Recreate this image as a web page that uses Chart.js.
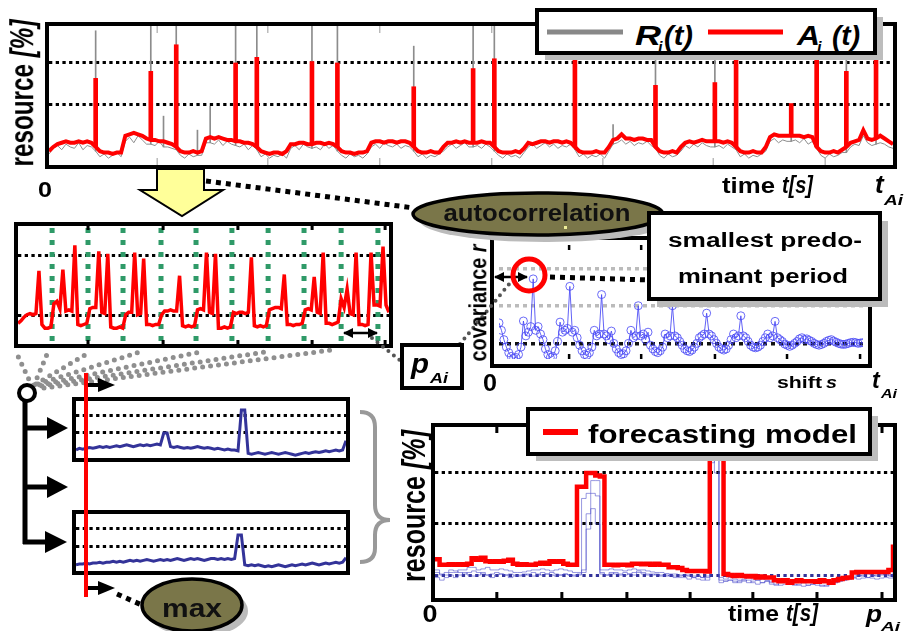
<!DOCTYPE html>
<html>
<head>
<meta charset="utf-8">
<script src="https://cdn.jsdelivr.net/npm/chart.js"></script>
<style>
body { margin: 0; background: #fff; width: 904px; height: 631px; overflow: hidden; position: relative; }
.frame { position: absolute; box-sizing: border-box; border: 4px solid #000; background: #fff; }
.frame canvas { display: block; }
svg { position: absolute; left: 0; top: 0; font-family: "Liberation Sans", Arial, sans-serif; font-weight: bold; }
</style>
</head>
<body>
<div class="frame" style="left:45px;top:22px;width:852px;height:147px"><canvas id="topChart" width="844" height="139"></canvas></div>
<div class="frame" style="left:14px;top:222px;width:379px;height:126px"><canvas id="midChart" width="371" height="118"></canvas></div>
<div class="frame" style="left:490px;top:236px;width:382px;height:132px"><canvas id="acfChart" width="374" height="124"></canvas></div>
<div class="frame" style="left:72px;top:397px;width:278px;height:65px"><canvas id="smallA" width="270" height="57"></canvas></div>
<div class="frame" style="left:72px;top:510px;width:278px;height:65px"><canvas id="smallB" width="270" height="57"></canvas></div>
<div class="frame" style="left:431px;top:423px;width:466px;height:179px"><canvas id="fcChart" width="458" height="171"></canvas></div>

<svg width="904" height="631">
  <defs>
    <marker id="ah" viewBox="0 0 10 10" refX="9" refY="5" markerWidth="4" markerHeight="4" orient="auto-start-reverse">
      <path d="M0,0 L10,5 L0,10 z" fill="#000"/>
    </marker>
  </defs>

  <!-- grey fan from the split node up to the period window -->
  <g stroke="#8f8f8f" stroke-width="5" stroke-linecap="round" stroke-dasharray="0 8" fill="none">
    <line x1="32" y1="386" x2="16" y2="352"/>
    <line x1="34" y1="385" x2="48" y2="352"/>
    <line x1="36" y1="384" x2="90" y2="352"/>
    <line x1="38" y1="384" x2="140" y2="352"/>
    <line x1="40" y1="385" x2="200" y2="352"/>
    <line x1="42" y1="386" x2="265" y2="352"/>
    <line x1="44" y1="388" x2="332" y2="350"/>
  </g>

  <!-- split tree -->
  <g stroke="#000" stroke-width="5" fill="none">
    <line x1="25" y1="400" x2="25" y2="544"/>
    <line x1="25" y1="428" x2="50" y2="428"/>
    <line x1="25" y1="487" x2="50" y2="487"/>
    <line x1="23" y1="542" x2="48" y2="542"/>
  </g>
  <polygon points="47,417 68,428 47,439" fill="#000"/>
  <polygon points="47,476 68,487 47,498" fill="#000"/>
  <polygon points="45,531 67,542 45,553" fill="#000"/>
  <circle cx="27" cy="393" r="8" fill="#fff" stroke="#000" stroke-width="4"/>

  <!-- yellow arrow -->
  <polygon points="157,169 204,169 204,190 223,190 182,216 140,190 157,190" fill="#ffff99" stroke="#000" stroke-width="2"/>

  <!-- black dotted connectors -->
  <g stroke="#000" stroke-width="5" stroke-dasharray="5 5" fill="none">
    <line x1="206" y1="181" x2="414" y2="208"/>
    <line x1="550" y1="277" x2="650" y2="280"/>
    <line x1="117" y1="594" x2="144" y2="606"/>
  </g>
  <g stroke="#555" stroke-width="4" stroke-linecap="round" stroke-dasharray="0 7" fill="none">
    <line x1="372" y1="338" x2="402" y2="362"/>
    <line x1="460" y1="344" x2="510" y2="283"/>
  </g>

  <!-- double arrows -->
  <line x1="344" y1="333" x2="377" y2="333" stroke="#000" stroke-width="2.5" marker-start="url(#ah)" marker-end="url(#ah)"/>
  <line x1="495" y1="277" x2="527" y2="277" stroke="#000" stroke-width="2.5" marker-start="url(#ah)" marker-end="url(#ah)"/>
  <circle cx="529" cy="275" r="16" fill="none" stroke="#ff0000" stroke-width="5"/>

  <!-- top legend -->
  <rect x="545" y="17" width="338" height="43" fill="#bdbdbd"/>
  <rect x="537" y="10" width="338" height="43" fill="#fff" stroke="#000" stroke-width="4"/>
  <line x1="547" y1="32" x2="623" y2="32" stroke="#888" stroke-width="5"/>
  <text x="635" y="45" font-size="28" font-style="italic" textLength="26" lengthAdjust="spacingAndGlyphs">R</text>
  <text x="658" y="53" font-size="16" font-style="italic">i</text>
  <text x="664" y="45" font-size="28" font-style="italic" textLength="29" lengthAdjust="spacingAndGlyphs">(t)</text>
  <line x1="708" y1="32" x2="783" y2="32" stroke="#ff0000" stroke-width="5"/>
  <text x="797" y="45" font-size="28" font-style="italic" textLength="23" lengthAdjust="spacingAndGlyphs">A</text>
  <text x="817" y="53" font-size="16" font-style="italic">i</text>
  <text x="832" y="45" font-size="28" font-style="italic" textLength="28" lengthAdjust="spacingAndGlyphs">(t)</text>

  <!-- top chart labels -->
  <text transform="translate(33,93) scale(1.3,1) rotate(-90)" text-anchor="middle" font-size="25" textLength="147" lengthAdjust="spacingAndGlyphs">resource <tspan font-style="italic">[%]</tspan></text>
  <text x="45" y="197" font-size="22" text-anchor="middle" textLength="14" lengthAdjust="spacingAndGlyphs">0</text>
  <text x="722" y="193" font-size="22" textLength="53" lengthAdjust="spacingAndGlyphs">time</text>
  <text x="782" y="193" font-size="23" font-style="italic" textLength="31" lengthAdjust="spacingAndGlyphs">t[s]</text>
  <text x="875" y="193" font-size="26" font-style="italic">t</text>
  <text x="884" y="205" font-size="15" font-style="italic" textLength="19" lengthAdjust="spacingAndGlyphs">Ai</text>

  <!-- autocorrelation ellipse -->
  <ellipse cx="545" cy="221" rx="125" ry="21" fill="#bbb"/>
  <ellipse cx="538" cy="214" rx="125" ry="21" fill="#7a7649" stroke="#000" stroke-width="3.5"/>
  <text x="537" y="221" font-size="23" text-anchor="middle" fill="#111" textLength="187" lengthAdjust="spacingAndGlyphs">autocorrelation</text>
  <rect x="564" y="226" width="3" height="3" fill="#eeee99"/>

  <!-- smallest predominant period box -->
  <rect x="657" y="221" width="231" height="86" fill="#bbb"/>
  <rect x="649" y="213" width="231" height="86" fill="#fff" stroke="#000" stroke-width="4"/>
  <text x="765" y="247" font-size="20" text-anchor="middle" textLength="194" lengthAdjust="spacingAndGlyphs">smallest predo-</text>
  <text x="763" y="283" font-size="20" text-anchor="middle" textLength="170" lengthAdjust="spacingAndGlyphs">minant period</text>

  <!-- acf labels -->
  <text transform="translate(486,303) scale(1.3,1) rotate(-90)" text-anchor="middle" font-size="18" textLength="117" lengthAdjust="spacingAndGlyphs">covariance <tspan font-style="italic">r</tspan></text>
  <text x="490" y="391" font-size="24" text-anchor="middle" textLength="14" lengthAdjust="spacingAndGlyphs">0</text>
  <text x="777" y="388" font-size="17" textLength="45" lengthAdjust="spacingAndGlyphs">shift</text>
  <text x="826" y="388" font-size="17" font-style="italic" textLength="11" lengthAdjust="spacingAndGlyphs">s</text>
  <text x="872" y="388" font-size="23" font-style="italic">t</text>
  <text x="881" y="398" font-size="13" font-style="italic" textLength="16" lengthAdjust="spacingAndGlyphs">Ai</text>

  <!-- p_Ai box -->
  <rect x="402" y="345" width="60" height="43" fill="#fff" stroke="#000" stroke-width="4"/>
  <text x="411" y="373" font-size="27" font-style="italic" textLength="18" lengthAdjust="spacingAndGlyphs">p</text>
  <text x="430" y="383" font-size="15" font-style="italic" textLength="18" lengthAdjust="spacingAndGlyphs">Ai</text>

  <!-- red marker over the per-period windows -->
  <line x1="86" y1="373" x2="86" y2="597" stroke="#ff0000" stroke-width="4"/>
  <line x1="88" y1="385" x2="100" y2="385" stroke="#000" stroke-width="4"/>
  <polygon points="98,378 115,385 98,392" fill="#000"/>
  <line x1="88" y1="588" x2="100" y2="588" stroke="#000" stroke-width="4"/>
  <polygon points="98,581 115,588 98,595" fill="#000"/>

  <!-- brace -->
  <path d="M360,412 Q375,412 375,427 L375,505 Q375,520 390,520 Q375,520 375,535 L375,548 Q375,562 360,562" fill="none" stroke="#999" stroke-width="4"/>

  <!-- max ellipse -->
  <ellipse cx="198" cy="611" rx="50" ry="26" fill="#bbb"/>
  <ellipse cx="192" cy="605" rx="50" ry="26" fill="#7a7649" stroke="#000" stroke-width="3.5"/>
  <text x="192" y="617" font-size="26" text-anchor="middle" fill="#111" textLength="60" lengthAdjust="spacingAndGlyphs">max</text>

  <!-- forecasting legend -->
  <rect x="536" y="416" width="342" height="45" fill="#bdbdbd"/>
  <rect x="528" y="409" width="342" height="45" fill="#fff" stroke="#000" stroke-width="4"/>
  <line x1="543" y1="432" x2="578" y2="432" stroke="#ff0000" stroke-width="6"/>
  <text x="588" y="443" font-size="25" textLength="269" lengthAdjust="spacingAndGlyphs">forecasting model</text>

  <!-- forecasting labels -->
  <text transform="translate(425,506) scale(1.3,1) rotate(-90)" text-anchor="middle" font-size="25" textLength="152" lengthAdjust="spacingAndGlyphs">resource <tspan font-style="italic">[%]</tspan></text>
  <text x="430" y="622" font-size="23" text-anchor="middle" textLength="15" lengthAdjust="spacingAndGlyphs">0</text>
  <text x="728" y="621" font-size="22" textLength="51" lengthAdjust="spacingAndGlyphs">time</text>
  <text x="786" y="621" font-size="23" font-style="italic" textLength="32" lengthAdjust="spacingAndGlyphs">t[s]</text>
  <text x="866" y="622" font-size="24" font-style="italic" textLength="16" lengthAdjust="spacingAndGlyphs">p</text>
  <text x="881" y="631" font-size="13" font-style="italic" textLength="19" lengthAdjust="spacingAndGlyphs">Ai</text>
</svg>

<script>
// measured resource R_i(t) (grey noise) and averaged A_i(t) (red base), 200 samples
const topGray = [5,9,11,8,12,10,9,13,8,11,10, 7, 3,5,2,4,6,3, 14,17,13,18,15,12, 12, 11,14,10,10,9, 8,
  4,2,5,3,4,4, 13,13,12,15,11,14,12, 11, 10,12,8,11, 8, 3,5,2,4,3,5,2, 9,11,8,12,10, 9, 10,8,12,9,11, 7,
  4,2,5,3,4,2,5, 10,12,9,13,11,10,12,9,11,10, 7, 3,5,2,4,3,5,7, 10,12,9,11,13,10, 10, 11,9,12,10, 7,
  4,2,5,3,4,2,6, 10,12,9,11,13,10,12,9,11,10,12, 8, 3,5,2,4,3,5,2,7, 12,13,15,12,14,11,13,12,14,11, 9,
  4,2,5,3,4,7, 11,9,12,10,13,11,10, 10, 11,9,12,10, 8, 3,5,2,4,3,5,7, 14,16,13,15,14, 14, 15,13,16,12,14, 9,
  4,2,5,3,4,6, 6, 10,12,11,18,13,11,12,13,12,10,9];
const topRed = [7,10,12,13,14,13,13,14,13,14,13, 10, 7,6,6,5,6,6, 18,19,20,19,18,16, 15, 15,14,14,13,12, 10,
  7,6,6,7,6,7, 16,17,16,17,16,15,15, 14, 14,13,13,12, 10, 7,6,5,6,6,5,7, 12,12,13,13,12, 12, 13,13,12,13,12, 10,
  7,6,6,5,6,6,7, 13,14,14,13,14,14,13,14,14,13, 10, 7,6,6,7,6,6,10, 13,13,14,13,14,13, 13, 13,14,13,13, 10,
  7,6,6,6,7,6,9, 13,12,13,14,14,13,14,14,13,14,13, 10, 7,6,6,6,7,6,6,10, 15,16,19,16,16,15,16,16,15,15, 10,
  7,6,6,7,6,10, 13,14,13,14,15,14,14, 14, 14,13,14,13, 10, 7,6,6,7,6,6,10, 17,19,18,18,18, 18, 18,18,17,18,17, 10,
  7,6,6,7,6,8, 10, 13,14,15,22,16,15,16,18,16,14,12];
// peaks of A_i(t) and the thin peaks of R_i(t)
const spikeIdx = [11, 24, 30, 44, 49, 62, 68, 86, 100, 105, 124, 143, 157, 162, 175, 181, 188, 195];
const spikeRed = [59, 64, 83, 70, 74, 71, 70, 53, 66, 73, 73, 54, 56, 82, 41, 84, 64, 72];
const hairIdx = [11, 24, 27, 30, 35, 38, 44, 49, 62, 68, 86, 100, 105, 124, 133, 143, 157, 162, 175, 181, 188, 195];
const hairTop = [93, 100, 32, 100, 22, 39, 100, 100, 100, 100, 82, 100, 100, 100, 26, 100, 77, 100, 38, 100, 78, 80];
const topGrid = [40, 70];
const topTicks = [25.5, 51.6, 78.0, 104.4, 130.6, 156.6, 183.0];

// zoomed window with the detected period marks
const midRed = [19,21,24,26,27,26,27,62,18,15, 15,16,35,37,31,63,29,30,29,83, 18,17,18,19,31,32,32,78,28,27,
  76,16,15,15,16,15,26,28,28,77, 26,27,72,18,18,17,18,18,26,29, 29,30,29,29,58,17,16,17,16,17,
  30,31,30,77,28,27,76,15,15,16, 15,16,28,27,28,28,27,28,73,17, 16,17,16,17,30,31,32,32,31,59,
  18,18,17,18,18,19,30,31,30,57, 28,27,77,19,19,18,19,20,39,32, 47,27,26,77,18,18,17,18,77,34, 34,33,82,34,28];
const midGrid = [25, 75];
const midTicks = [23.4, 48.5, 73.5, 98.3, 122.7];
const periodMarks = [11.4, 23.4, 35.1, 47.8, 59.5, 71.5, 83.6, 95.6, 108, 120.3];

// autocorrelation over the shift s
const acf = [0.55,0.35,0.1,-0.1,-0.25,-0.35,-0.4,-0.38,-0.3,-0.1, 0.6,0.2,0.3,0.45,1.73,0.35,0.45,0.25,0.1,-0.15,
  -0.3,-0.38,-0.35,-0.2,0.05,0.57,0.3,0.35,0.4,1.53, 0.3,0.35,0.15,-0.05,-0.2,-0.3,-0.32,-0.25,-0.1,0.35,
  0.2,0.25,1.31,0.25,0.2,0.1,0.33,0.0,-0.15,-0.25, -0.3,-0.28,-0.2,0.0,0.35,0.15,0.2,1.01,0.2,0.25,
  0.1,0.3,-0.05,-0.15,-0.22,-0.25,-0.2,-0.1,0.25,0.15, 0.2,1.01,0.2,0.15,0.05,-0.05,-0.15,-0.2,-0.22,-0.18,
  -0.1,0.0,0.15,0.2,0.25,0.81,0.25,0.2,0.1,0.0, -0.1,-0.15,-0.18,-0.15,-0.05,0.1,0.25,0.15,0.2,0.74,
  0.2,0.15,0.05,-0.05,-0.1,-0.12,-0.1,-0.05,0.05,0.15, 0.25,0.15,0.2,0.59,0.15,0.1,0.05,-0.02,-0.05,-0.08,
  -0.05,0.0,0.05,0.12,0.15,0.1,0.12,0.08,0.05,0.0, -0.03,-0.05,-0.03,0.0,0.05,0.08,0.1,0.06,0.03,0.0,
  -0.02,-0.03,-0.02,0.0,0.02,0.03,0.02,0.0,0.01,0.02];
const acfGrid = [0, 1, 2];
const acfTicks = [28.7, 58.2, 88.4, 117.9, 147.8];

// two of the per-period slices
const smallA = [0.0,0.1,0.05,0.1,0.15,0.1,0.15,0.2,0.15,0.2, 0.15,0.2,0.25,0.2,0.25,0.3,0.25,0.2,0.25,0.3,
  0.25,0.3,0.25,0.3,0.35,0.3, 1.0,1.0, 0.2,0.15,0.2,0.15,0.1,0.15,0.1,0.15,0.2,0.15, 0.1,0.15,0.1,0.05,0.1,0.05,0.0,0.05,0.0,0.0,
  -0.05, 2.35,2.35, -0.2,-0.25,-0.2,-0.15,-0.2,-0.25,-0.2,-0.15,-0.2,-0.25, -0.2,-0.15,-0.2,-0.25,-0.3,-0.25,-0.2,-0.15,-0.2,-0.15,
  -0.1,-0.15,-0.1,-0.05,-0.1,-0.05,0.0,-0.05,0.0,0.55];
const smallB = [-0.05,0.0,0.0,0.05,0.0,0.05,0.05,0.1,0.05,0.1, 0.1,0.15,0.1,0.15,0.1,0.15,0.2,0.15,0.2,0.15,
  0.2,0.25,0.2,0.15,0.2,0.25,0.2,0.25,0.2,0.25, 0.3,0.25,0.2,0.25,0.3,0.25,0.3,0.25,0.2,0.25, 0.3,0.3,0.25,0.3,0.25,0.3,0.25,0.3,
  1.61,1.61, -0.05,-0.1,-0.05,-0.1,-0.05,-0.1,-0.15,-0.1,-0.15,-0.1, -0.05,-0.1,-0.15,-0.1,-0.05,-0.1,-0.05,0.0,-0.05,0.0,
  0.05,0.0,-0.05,0.0,0.05,0.0,0.05,0.1,0.05,0.1,0.35];
const smallGrid = [1, 2];

// forecasting model (red) over the overlaid periods (blue)
const fcRed = [0.31,0.2,0.2,0.21,0.2,0.21,0.2,0.22,0.33,0.3, 0.34,0.27,0.26,0.27,0.26,0.28,0.3,0.22,0.2,0.21,
  0.2,0.2,0.22,0.24,0.22,0.27,0.26,0.27,0.22,0.2, 0.2,1.73,1.73,2.0,2.0,1.95,1.93,0.2,0.2,0.19,
  0.2,0.2,0.19,0.22,0.22,0.21,0.22,0.2,0.22,0.2, 0.2,0.15,0.15,0.14,0.1,0.08,0.08,0.08,0.08,0.07,
  2.9,2.9,2.9,0.02,0.0,-0.02,0.0,-0.02,-0.03,-0.02, -0.05,-0.03,-0.05,-0.05,-0.1,-0.12,-0.1,-0.15,-0.12,-0.1,
  -0.12,-0.12,-0.12,-0.13,-0.1,-0.12,-0.15,-0.1,-0.08,-0.06, -0.05,0.05,0.06,0.06,0.06,0.06,0.06,0.06,0.06,0.1, 0.6];
const fcBlue1 = [0.1,0.0,0.0,0.05,0.05,0.1,0.1,0.15,0.15,0.1, 0.12,0.15,0.1,0.1,0.12,0.1,0.08,0.05,0.05,0.06,
  0.08,0.1,0.1,0.12,0.1,0.08,0.1,0.12,0.1,0.08, 0.05, 0.05,1.5,1.6,1.6,1.55,0.1,0.1,
  0.12,0.1,0.1,0.08,0.1,0.12,0.1,0.1,0.08,0.06, 0.05,0.05,0.03,0.02,0.02,0.0,0.0,0.0,-0.02,-0.02, -0.05,-0.1,
  2.6,2.9,-0.1,
  -0.12,-0.1,-0.15,-0.12,-0.1,-0.15,-0.12,-0.1,-0.15,-0.12, -0.18,-0.2,-0.15,-0.12,-0.15,-0.2,-0.18,-0.15,-0.2,-0.18,
  -0.15,-0.2,-0.22,-0.18,-0.15,-0.12,-0.1,-0.08,-0.05,-0.02, 0.0,0.02,0.0,-0.02,0.0,0.02,0.0,0.05];
const fcBlue2 = [-0.05,-0.1,-0.05,0.0,-0.05,0.0,0.05,0.0,-0.02,0.0, 0.05,0.0,-0.05,0.0,0.02,0.0,-0.05,-0.02,0.0,0.02,
  0.0,-0.02,0.0,0.05,0.02,0.0,-0.02,0.0,0.02,0.0, -0.02, 0.0,0.1,1.2,1.85,1.85,0.05,0.0,
  0.05,0.02,0.0,0.05,0.02,0.0,0.05,0.02,0.0,0.02, 0.0,-0.02,0.0,-0.02,-0.05,-0.05,-0.05,-0.08,-0.05,-0.08, -0.1,-0.05,
  2.2,2.5,-0.15,
  -0.12,-0.1,-0.12,-0.15,-0.12,-0.1,-0.15,-0.18,-0.15,-0.12, -0.15,-0.18,-0.2,-0.18,-0.15,-0.18,-0.2,-0.22,-0.2,-0.18,
  -0.2,-0.22,-0.2,-0.18,-0.15,-0.12,-0.1,-0.08,-0.06,-0.08, -0.06,-0.05,-0.06,-0.08,-0.06,-0.05,-0.06,-0.03];
const fcBlue3 = [0.05,0.02,0.05,0.1,0.08,0.05,0.02,0.05,0.08,0.05, 0.02,0.0,0.02,0.05,0.02,0.0,0.02,0.0,-0.02,0.0,
  0.02,0.05,0.02,0.0,0.02,0.05,0.02,0.0,0.02,0.0, 0.0, 0.02,0.05,0.9,1.3,1.0,0.02,0.0,
  0.02,0.05,0.02,0.0,0.02,0.05,0.08,0.05,0.02,0.0, 0.02,0.0,-0.02,0.0,-0.02,-0.02,0.0,-0.02,-0.05,-0.02, -0.05,-0.02,
  2.9,2.0,-0.05,
  -0.08,-0.05,-0.08,-0.1,-0.08,-0.05,-0.08,-0.1,-0.08,-0.1, -0.12,-0.1,-0.08,-0.1,-0.12,-0.15,-0.12,-0.1,-0.12,-0.15,
  -0.12,-0.1,-0.12,-0.15,-0.12,-0.1,-0.08,-0.05,-0.02,0.0, -0.02,-0.05,-0.02,0.0,0.02,0.0,-0.02,0.0];
const fcGrid = [0, 1, 2];
const fcTicks = [13.5, 27.7, 41.9, 55.7, 69.4, 83.4, 97.6];

const RED = '#ff0000';
const GREY = '#8c8c8c';
const NAVY = '#333399';

/**
 * short tick marks drawn inside the frame, top and bottom
 */
const innerTicks = {
    id: 'innerTicks',
    afterDraw(chart, args, opts) {
        if (!opts.values) return;
        const ctx = chart.ctx;
        const area = chart.chartArea;
        const x = chart.scales.x;
        ctx.save();
        ctx.strokeStyle = opts.color;
        ctx.lineWidth = opts.width;
        opts.values.forEach(v => {
            const px = x.getPixelForValue(v);
            ctx.beginPath();
            ctx.moveTo(px, area.bottom);
            ctx.lineTo(px, area.bottom - opts.len);
            ctx.moveTo(px, area.top);
            ctx.lineTo(px, area.top + opts.len);
            ctx.stroke();
        });
        ctx.restore();
    }
};

/**
 * green dashed verticals that mark each detected period
 */
const periodLines = {
    id: 'periodLines',
    beforeDatasetsDraw(chart, args, opts) {
        if (!opts.values) return;
        const ctx = chart.ctx;
        const area = chart.chartArea;
        const x = chart.scales.x;
        ctx.save();
        ctx.strokeStyle = '#2f9a68';
        ctx.lineWidth = 5;
        ctx.setLineDash([5, 7]);
        opts.values.forEach(v => {
            const px = x.getPixelForValue(v);
            ctx.beginPath();
            ctx.moveTo(px, area.top + 2);
            ctx.lineTo(px, area.bottom);
            ctx.stroke();
        });
        ctx.restore();
    }
};

Chart.register(innerTicks, periodLines);

const pts = arr => arr.map((v, i) => ({x: i, y: v}));

function makeChart(id, datasets, xMax, y, plugins) {
    return new Chart(document.getElementById(id), {
        type: 'line',
        data: {datasets: datasets},
        options: {
            responsive: false,
            animation: false,
            events: [],
            layout: {padding: 0},
            elements: {point: {radius: 0}, line: {tension: 0}},
            plugins: Object.assign({legend: {display: false}, tooltip: {enabled: false}}, plugins),
            scales: {
                x: {type: 'linear', display: false, offset: false, min: 0, max: xMax},
                y: {
                    min: y.min,
                    max: y.max,
                    afterBuildTicks: axis => { axis.ticks = y.grid.map(v => ({value: v})); },
                    ticks: {display: false},
                    grid: {
                        drawTicks: false,
                        color: ctx => y.colors[ctx.index] || '#000',
                        lineWidth: y.width
                    },
                    border: {display: false, dash: y.dash}
                }
            }
        }
    });
}

// peaks as floating bars standing on the line they belong to
const redSpikes = spikeIdx.map((idx, k) => ({x: idx, y: [topRed[idx], spikeRed[k]]}));
const greyHairs = hairIdx.map((idx, k) => ({x: idx, y: [topGray[idx], hairTop[k]]}));

makeChart('topChart', [
    {type: 'bar', data: redSpikes, backgroundColor: RED, barThickness: 4, grouped: false, order: 0},
    {data: pts(topRed), borderColor: RED, borderWidth: 4, clip: 0, order: 1},
    {type: 'bar', data: greyHairs, backgroundColor: GREY, barThickness: 1, grouped: false, order: 2},
    {data: pts(topGray), borderColor: GREY, borderWidth: 1, clip: 0, order: 3}
], topRed.length - 1,
    {min: -2.9, max: 96.4, grid: topGrid, colors: ['#000', '#000'], width: 3, dash: [3.3, 3.4]},
    {innerTicks: {values: topTicks, color: '#999', width: 1, len: 7}});

makeChart('midChart', [
    {data: pts(midRed), borderColor: RED, borderWidth: 3.5, clip: 0}
], midRed.length - 1,
    {min: 2.0, max: 98.8, grid: midGrid, colors: ['#000', '#000'], width: 3, dash: [3.3, 3.4]},
    {innerTicks: {values: midTicks, color: '#000', width: 3, len: 4}, periodLines: {values: periodMarks}});

makeChart('acfChart', [
    {
        data: pts(acf), borderColor: 'rgba(70,70,245,0.85)', borderWidth: 1, clip: 0,
        pointRadius: 4, pointStyle: 'circle', pointBorderWidth: 1,
        pointBorderColor: 'rgba(70,70,245,0.8)', pointBackgroundColor: 'rgba(0,0,0,0)'
    }
], acf.length - 1,
    {min: -0.42, max: 2.64, grid: acfGrid, colors: ['#111', '#bbb', '#bbb'], width: 3.5, dash: [4, 4]},
    {innerTicks: {values: acfTicks, color: '#000', width: 2.5, len: 5}});

makeChart('smallA', [
    {data: pts(smallA), borderColor: NAVY, borderWidth: 3, clip: 0}
], smallA.length - 1,
    {min: -0.47, max: 2.88, grid: smallGrid, colors: ['#000', '#000'], width: 3, dash: [3.3, 3.4]}, {});

makeChart('smallB', [
    {data: pts(smallB), borderColor: NAVY, borderWidth: 3, clip: 0}
], smallB.length - 1,
    {min: -0.39, max: 2.78, grid: smallGrid, colors: ['#000', '#000'], width: 3, dash: [3.3, 3.4]}, {});

makeChart('fcChart', [
    {data: pts(fcRed), borderColor: RED, borderWidth: 4.5, stepped: true, clip: 0, order: 0},
    {data: pts(fcBlue1), borderColor: 'rgba(70,70,200,0.55)', borderWidth: 1, stepped: true, clip: 0, order: 1},
    {data: pts(fcBlue2), borderColor: 'rgba(70,70,200,0.55)', borderWidth: 1, stepped: true, clip: 0, order: 2},
    {data: pts(fcBlue3), borderColor: 'rgba(70,70,200,0.55)', borderWidth: 1, stepped: true, clip: 0, order: 3}
], fcRed.length - 1,
    {min: -0.45, max: 2.9, grid: fcGrid, colors: [NAVY, '#000', '#000'], width: 3, dash: [3.3, 3.4]},
    {innerTicks: {values: fcTicks, color: '#000', width: 3, len: 6}});
</script>
</body>
</html>
